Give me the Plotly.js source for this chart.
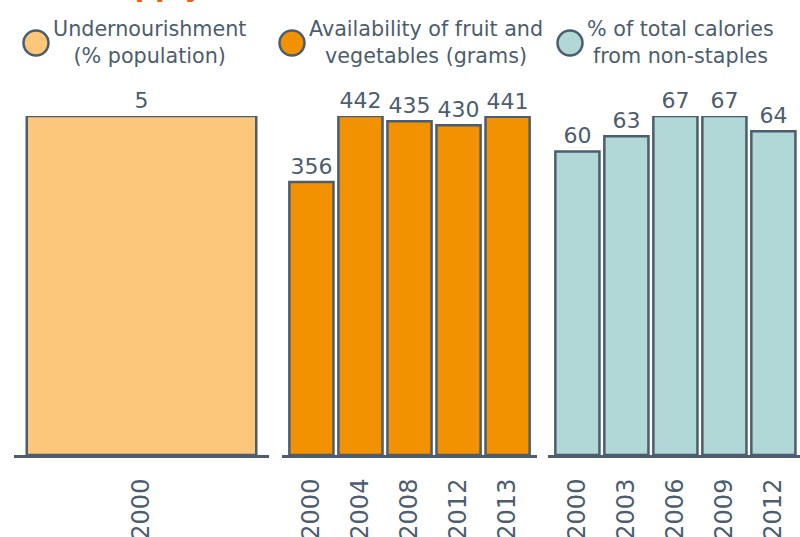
<!DOCTYPE html>
<html>
<head>
<meta charset="utf-8">
<script src="https://cdn.plot.ly/plotly-3.0.1.min.js"></script>
<style>html,body{margin:0;padding:0;background:#fff;}#chart{width:800px;height:537px;}</style>
</head>
<body>
<div id="chart"></div>
<script>
// ---- data ----
var seriesNames = ["Undernourishment<br>(% population)", "Availability of fruit and<br>vegetables (grams)", "% of total calories<br>from non-staples"];
var years1 = ["2000"];
var values1 = [5];
var years2 = ["2000", "2004", "2008", "2012", "2013"];
var values2 = [356, 442, 435, 430, 441];
var years3 = ["2000", "2003", "2006", "2009", "2012"];
var values3 = [60, 63, 67, 67, 64];
var titleText = "Food supply";

// ---- styling ----
var slate = "#4b5d6e";
var colors = ["#fcc77b", "#f39200", "#b1d7d6"];
var W = 800, H = 537;
var font = "DejaVu Sans";

function barTrace(x, y, color, xa, ya) {
  return {
    type: "bar", x: x, y: y, xaxis: xa, yaxis: ya,
    marker: {color: color, line: {color: slate, width: 2.5}},
    texttemplate: "%{y}", textposition: "outside", cliponaxis: false,
    constraintext: "none",
    textfont: {family: font, size: 22, color: slate},
    hoverinfo: "skip", showlegend: false
  };
}

var data = [
  barTrace(years1, values1, colors[0], "x", "y"),
  barTrace(years2, values2, colors[1], "x2", "y2"),
  barTrace(years3, values3, colors[2], "x3", "y3")
];

var yDomain = [(H - 455) / H, (H - 116) / H];
function xAxis(dom, rng) {
  return {
    domain: dom, range: rng, type: "category", automargin: false,
    showline: true, linecolor: slate, linewidth: 3,
    showgrid: false, zeroline: false, ticks: "",
    tickangle: -90, ticklabelstandoff: 11,
    tickfont: {family: font, size: 24, color: slate}, fixedrange: true
  };
}
function yAxis(anchor, maxv) {
  return {
    domain: yDomain, range: [0, maxv], anchor: anchor, automargin: false,
    showline: false, showgrid: false, zeroline: false, showticklabels: false,
    ticks: "", fixedrange: true
  };
}

var legendX = [36, 292, 570];
var annotations = [];
var shapes = [];
for (var i = 0; i < seriesNames.length; i++) {
  shapes.push({
    type: "circle", xref: "paper", yref: "paper",
    xsizemode: "pixel", ysizemode: "pixel",
    xanchor: legendX[i] / W, yanchor: (H - 43) / H,
    x0: -12.5, x1: 12.5, y0: -12.5, y1: 12.5,
    fillcolor: colors[i], line: {color: slate, width: 2.5}
  });
  annotations.push({
    xref: "paper", yref: "paper",
    x: (legendX[i] + 15) / W, xanchor: "left",
    y: (H - 42) / H, yanchor: "middle",
    text: seriesNames[i], align: "center", showarrow: false,
    font: {family: font, size: 20.7, color: slate}
  });
}
annotations.push({
  xref: "paper", yref: "paper", x: 10 / W, xanchor: "left",
  y: 1, yanchor: "bottom", yshift: -5,
  text: "<b>" + titleText + "</b>", showarrow: false,
  font: {family: font, size: 28, color: "#e8620e"}
});

var layout = {
  width: W, height: H,
  margin: {l: 0, r: 0, t: 0, b: 0, pad: 0},
  paper_bgcolor: "#fff", plot_bgcolor: "rgba(0,0,0,0)",
  bargap: 0.1, showlegend: false,
  xaxis: xAxis([14 / W, 269 / W], [-0.5, 0.5]),
  xaxis2: xAxis([282 / W, 537 / W], [-0.6, 4.6]),
  xaxis3: xAxis([548 / W, 1], [-0.6, 4.543]),
  yaxis: yAxis("x", 5),
  yaxis2: yAxis("x2", 442),
  yaxis3: yAxis("x3", 67),
  annotations: annotations,
  shapes: shapes
};

Plotly.newPlot("chart", data, layout, {displayModeBar: false, staticPlot: true});
</script>
</body>
</html>
